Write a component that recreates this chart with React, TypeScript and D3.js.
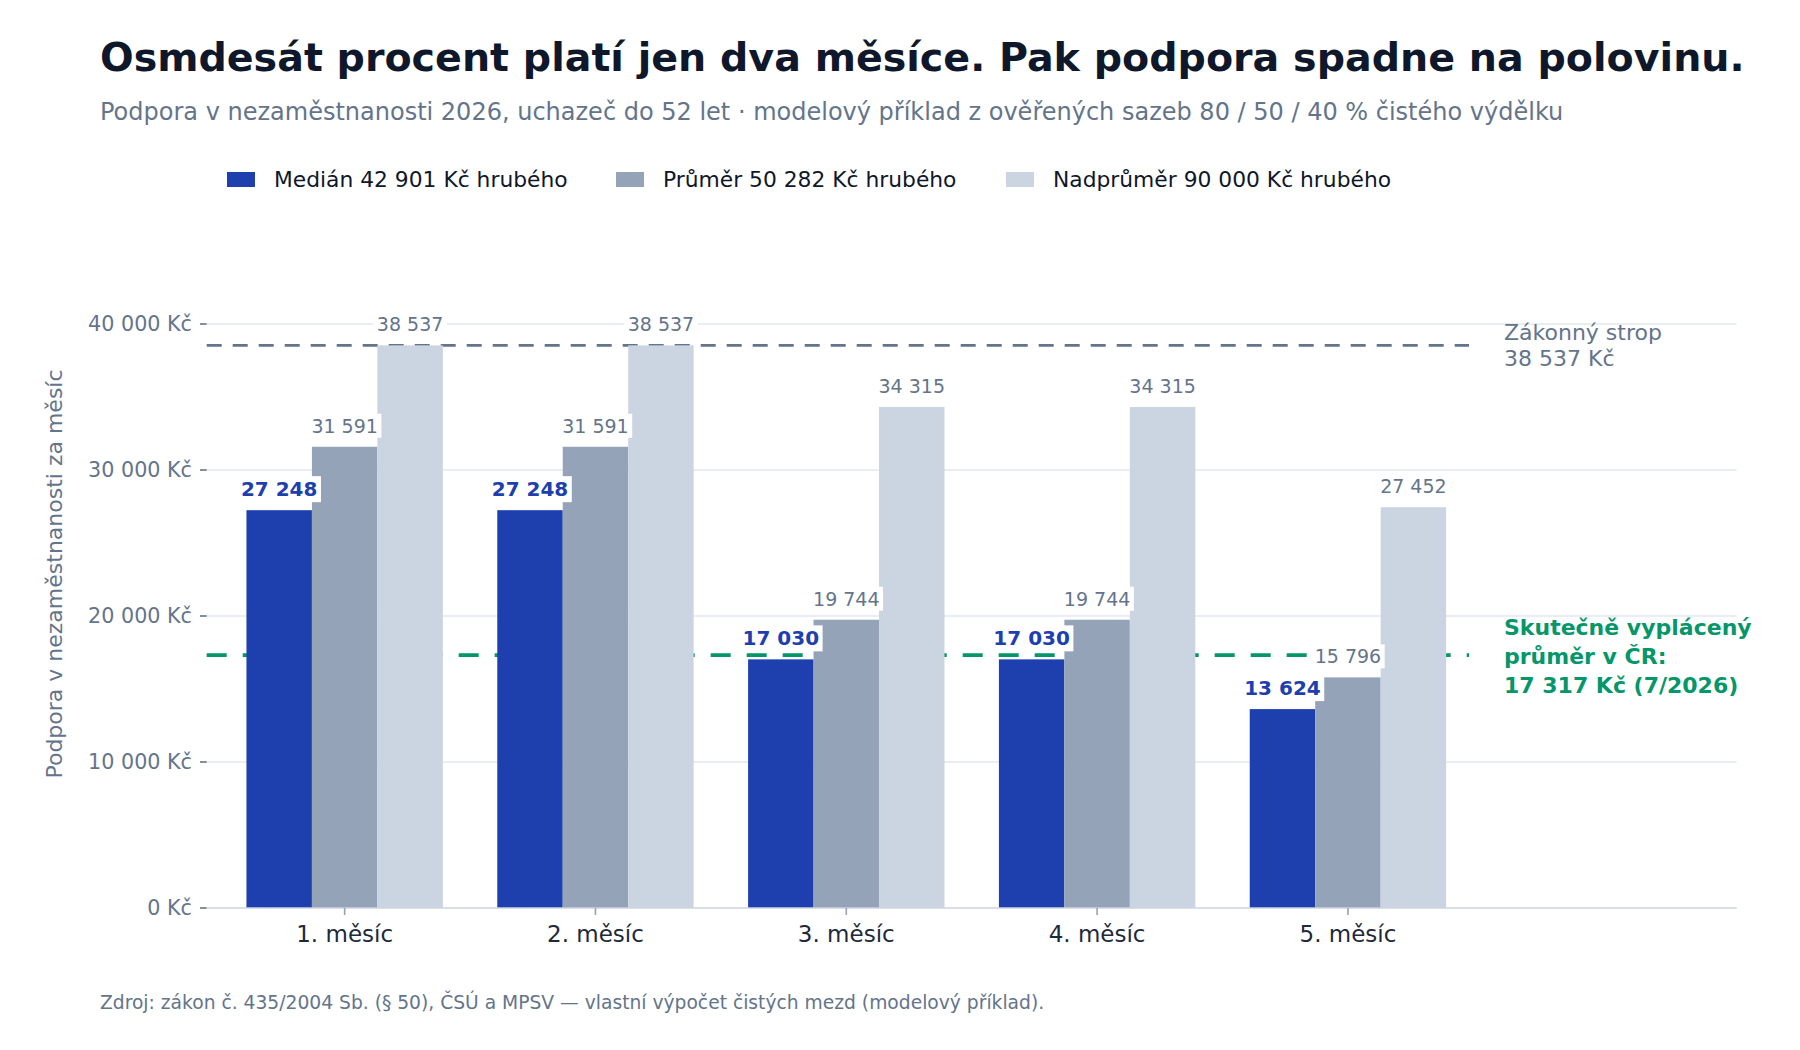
import React, { useEffect, useRef } from "react";
import * as d3 from "d3";

const CATEGORIES = ["1. měsíc", "2. měsíc", "3. měsíc", "4. měsíc", "5. měsíc"];
const SERIES_NAMES = [
  "Medián 42 901 Kč hrubého",
  "Průměr 50 282 Kč hrubého",
  "Nadprůměr 90 000 Kč hrubého",
];
const MEDIAN = [27248, 27248, 17030, 17030, 13624];
const PRUMER = [31591, 31591, 19744, 19744, 15796];
const NADPRUMER = [38537, 38537, 34315, 34315, 27452];
const Y_TICKS = [0, 10000, 20000, 30000, 40000];
const CAP_VALUE = 38537;
const ACTUAL_AVG = 17317;

const TITLE = "Osmdesát procent platí jen dva měsíce. Pak podpora spadne na polovinu.";
const SUBTITLE =
  "Podpora v nezaměstnanosti 2026, uchazeč do 52 let · modelový příklad z ověřených sazeb 80 / 50 / 40 % čistého výdělku";
const Y_TITLE = "Podpora v nezaměstnanosti za měsíc";
const CAP_LABEL = ["Zákonný strop", "38 537 Kč"];
const AVG_LABEL = ["Skutečně vyplácený", "průměr v ČR:", "17 317 Kč (7/2026)"];
const SOURCE =
  "Zdroj: zákon č. 435/2004 Sb. (§ 50), ČSÚ a MPSV — vlastní výpočet čistých mezd (modelový příklad).";

const COLORS = ["#1e40af", "#94a3b8", "#cbd5e1"];
const FONT = "DejaVu Sans, Verdana, sans-serif";

export default function App() {
  const ref = useRef<SVGSVGElement | null>(null);

  useEffect(() => {
    const svg = d3.select(ref.current);
    svg.selectAll("*").remove();

    const W = 1800;
    const H = 1050;
    const left = 206.7;
    const right = 1736.7;
    const lineEnd = 1469;

    const locale = d3.formatLocale({
      decimal: ",",
      thousands: " ",
      grouping: [3],
      currency: ["", " Kč"],
    });
    const fmt = locale.format(",d");

    const y = d3.scaleLinear().domain([0, 40000]).range([908, 324]);
    const x = d3.scaleLinear().domain([-0.55, 5.55]).range([left, right]);
    const bw = 0.261;

    svg.append("rect").attr("width", W).attr("height", H).attr("fill", "#ffffff");

    // Title & subtitle
    svg
      .append("text")
      .attr("x", 100)
      .attr("y", 70.7)
      .attr("font-family", FONT)
      .attr("font-weight", "bold")
      .attr("font-size", 39.6)
      .attr("fill", "#0f172a")
      .text(TITLE);
    svg
      .append("text")
      .attr("x", 100)
      .attr("y", 120)
      .attr("font-family", FONT)
      .attr("font-size", 24)
      .attr("fill", "#64748b")
      .text(SUBTITLE);

    // Legend
    const legendX = [227, 616, 1006];
    SERIES_NAMES.forEach((name, i) => {
      svg
        .append("rect")
        .attr("x", legendX[i])
        .attr("y", 172)
        .attr("width", 28)
        .attr("height", 15)
        .attr("fill", COLORS[i]);
      svg
        .append("text")
        .attr("x", legendX[i] + 47)
        .attr("y", 187)
        .attr("font-family", FONT)
        .attr("font-size", 21.8)
        .attr("fill", "#0f172a")
        .text(name);
    });

    // Gridlines
    const grid = svg.append("g");
    Y_TICKS.filter((t) => t > 0).forEach((t) => {
      grid
        .append("line")
        .attr("x1", left)
        .attr("x2", right)
        .attr("y1", y(t))
        .attr("y2", y(t))
        .attr("stroke", "#e2e8f0")
        .attr("stroke-width", 1.6);
    });

    // Y axis ticks and labels
    const yAxis = svg.append("g");
    Y_TICKS.forEach((t) => {
      yAxis
        .append("line")
        .attr("x1", 200)
        .attr("x2", left)
        .attr("y1", y(t))
        .attr("y2", y(t))
        .attr("stroke", "#64748b")
        .attr("stroke-width", 1.6);
      yAxis
        .append("text")
        .attr("x", 192)
        .attr("y", y(t))
        .attr("dy", "0.35em")
        .attr("text-anchor", "end")
        .attr("font-family", FONT)
        .attr("font-size", 20.7)
        .attr("fill", "#64748b")
        .text(fmt(t) + " Kč");
    });
    svg
      .append("text")
      .attr("transform", `translate(54, 574) rotate(-90)`)
      .attr("dy", "0.35em")
      .attr("text-anchor", "middle")
      .attr("font-family", FONT)
      .attr("font-size", 22)
      .attr("fill", "#64748b")
      .text(Y_TITLE);

    // Reference lines
    svg
      .append("line")
      .attr("x1", left)
      .attr("x2", lineEnd)
      .attr("y1", y(CAP_VALUE))
      .attr("y2", y(CAP_VALUE))
      .attr("stroke", "#64748b")
      .attr("stroke-width", 2.7)
      .attr("stroke-dasharray", "15 11");
    svg
      .append("line")
      .attr("x1", left)
      .attr("x2", lineEnd)
      .attr("y1", y(ACTUAL_AVG))
      .attr("y2", y(ACTUAL_AVG))
      .attr("stroke", "#059669")
      .attr("stroke-width", 3.6)
      .attr("stroke-dasharray", "20 16");

    // Bars
    const series = [MEDIAN, PRUMER, NADPRUMER];
    const barW = x(bw) - x(0);
    const bars = svg.append("g");
    series.forEach((vals, k) => {
      vals.forEach((v, i) => {
        const cx = i + (k - 1) * bw;
        bars
          .append("rect")
          .attr("x", x(cx - bw / 2))
          .attr("y", y(v))
          .attr("width", barW)
          .attr("height", y(0) - y(v))
          .attr("fill", COLORS[k]);
      });
    });

    // X axis
    svg
      .append("line")
      .attr("x1", left)
      .attr("x2", right)
      .attr("y1", y(0))
      .attr("y2", y(0))
      .attr("stroke", "#cbd5e1")
      .attr("stroke-width", 1.6);
    CATEGORIES.forEach((c, i) => {
      svg
        .append("line")
        .attr("x1", x(i))
        .attr("x2", x(i))
        .attr("y1", y(0))
        .attr("y2", y(0) + 7)
        .attr("stroke", "#94a3b8")
        .attr("stroke-width", 1.6);
      svg
        .append("text")
        .attr("x", x(i))
        .attr("y", 942)
        .attr("text-anchor", "middle")
        .attr("font-family", FONT)
        .attr("font-size", 23)
        .attr("fill", "#1e293b")
        .text(c);
    });

    // Value labels
    const labels = svg.append("g");
    series.forEach((vals, k) => {
      vals.forEach((v, i) => {
        const cx = x(i + (k - 1) * bw);
        const g = labels.append("g");
        const t = g
          .append("text")
          .attr("x", cx)
          .attr("y", y(v) - 14)
          .attr("text-anchor", "middle")
          .attr("font-family", FONT)
          .attr("font-size", k === 0 ? 20 : 19)
          .attr("font-weight", k === 0 ? "bold" : "normal")
          .attr("fill", k === 0 ? "#1e40af" : "#64748b")
          .text(fmt(v));
        const bb = (t.node() as SVGTextElement).getBBox();
        g.insert("rect", "text")
          .attr("x", bb.x - 3.5)
          .attr("y", bb.y - 1)
          .attr("width", bb.width + 7)
          .attr("height", bb.height + 2)
          .attr("fill", "#ffffff");
      });
    });

    // Annotations
    CAP_LABEL.forEach((s, i) => {
      svg
        .append("text")
        .attr("x", 1504)
        .attr("y", 340 + i * 25.5)
        .attr("font-family", FONT)
        .attr("font-size", 22)
        .attr("fill", "#64748b")
        .text(s);
    });
    AVG_LABEL.forEach((s, i) => {
      svg
        .append("text")
        .attr("x", 1504)
        .attr("y", 635 + i * 29)
        .attr("font-family", FONT)
        .attr("font-size", 22)
        .attr("font-weight", "bold")
        .attr("fill", "#059669")
        .text(s);
    });

    // Source
    svg
      .append("text")
      .attr("x", 100)
      .attr("y", 1009)
      .attr("font-family", FONT)
      .attr("font-size", 18.7)
      .attr("fill", "#64748b")
      .text(SOURCE);
  }, []);

  return (
    <div style={{ position: "absolute", left: 0, top: 0 }}>
      <svg ref={ref} width={1800} height={1050} style={{ display: "block" }} />
    </div>
  );
}
